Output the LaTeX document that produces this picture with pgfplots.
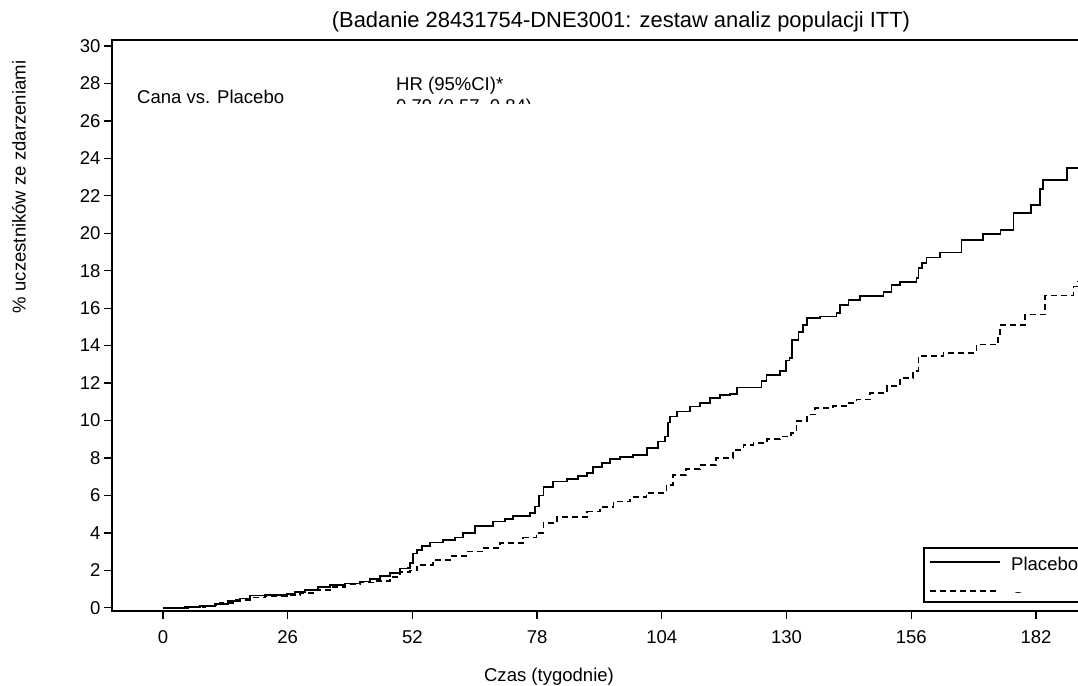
\documentclass[border=0pt]{standalone}
\usepackage{pgfplots}
\pgfplotsset{compat=1.18}
\usepackage{fontspec}
\setmainfont{Liberation Sans}
\newcommand\tfnt{\fontsize{18.6}{22}\selectfont}
\newcommand\sfnt{\fontsize{18.6}{22}\selectfont}
\newcommand\ttlfnt{\fontsize{22}{26}\selectfont}
\begin{document}
\begin{tikzpicture}[x=1bp,y=1bp]
\begin{axis}[
  at={(112bp,75bp)}, anchor=south west,
  scale only axis, width=970bp, height=571bp,
  xmin=-10.63, xmax=191.6, ymin=-0.17, ymax=30.32,
  xtick={0,26,52,78,104,130,156,182},
  ytick={0,2,...,30},
  tick pos=left, tick align=outside,
  major tick length=8bp,
  axis line style={line width=1.6bp},
  every tick/.style={line width=1.3bp, black},
  tick label style={font=\tfnt},
  /pgf/number format/assume math mode=true,
  xticklabel style={yshift=-8bp},
  yticklabel style={xshift=0bp},
  clip=true,
]
\addplot[const plot, line width=1.7bp, black] coordinates {
(0,0) (4.6,0.05) (7.7,0.1) (10.8,0.2) (13.5,0.35) (16.1,0.5) (18.1,0.65)
(21.3,0.7) (25.9,0.75) (27.5,0.85) (29.6,0.95) (32.3,1.1) (34.8,1.2)
(37.9,1.3) (41.1,1.4) (43.2,1.55) (45.2,1.7) (47.3,1.85) (49.4,2.1)
(51.1,2.13) (51.5,2.4) (52.1,2.9) (52.9,3.1) (54.0,3.3) (55.7,3.48)
(58.4,3.63) (60.9,3.75) (62.5,3.99) (65.0,4.38) (68.8,4.61) (71.3,4.75)
(72.9,4.91) (76.5,5.05) (77.6,5.41) (78.4,6.0) (79.3,6.44) (81.3,6.74)
(84.2,6.87) (86.5,7.05) (88.4,7.19) (89.6,7.51) (91.5,7.75) (93.2,7.94)
(95.3,8.05) (98.0,8.17) (100.9,8.53) (103.2,8.88) (104.7,9.14) (105.3,9.9)
(105.7,10.21) (107.2,10.48) (109.9,10.75) (112.0,10.93) (114.0,11.21)
(116.1,11.37) (118.2,11.41) (119.7,11.76) (124.8,12.12) (125.8,12.44)
(128.6,12.65) (129.9,13.2) (130.6,13.33) (131.1,14.3) (132.5,14.74)
(133.4,15.1) (134.2,15.47) (137.0,15.55) (140.4,15.73) (141.1,16.17)
(142.9,16.44) (145.3,16.65) (150.2,16.88) (151.9,17.24) (153.6,17.38)
(157.1,17.60) (157.5,18.13) (158.2,18.4) (159.2,18.70) (162.0,18.98)
(166.5,19.64) (170.9,19.96) (174.6,20.18) (177.3,21.07) (180.9,21.51)
(182.8,22.35) (183.5,22.85) (188.5,23.47) (191.6,23.47)
};
\addplot[const plot, line width=1.7bp, black, dash pattern=on 6bp off 4bp] coordinates {
(0,0) (5.6,0.05) (8.8,0.12) (11.9,0.25) (15.0,0.4) (18.1,0.55) (21.3,0.62)
(25.9,0.7) (28.6,0.8) (31.7,0.95) (34.8,1.1) (37.9,1.25) (41.1,1.35)
(44.2,1.45) (47.3,1.65) (49.4,1.93) (51.5,1.99) (52.9,2.29) (56.3,2.56)
(59.8,2.78) (63.3,3.00) (66.7,3.2) (70.3,3.45) (75.1,3.75) (77.9,3.99)
(79.3,4.52) (82.1,4.84) (88.4,5.14) (91.1,5.4) (93.9,5.68) (97.4,5.9)
(100.8,6.13) (105.0,6.57) (106.4,7.10) (109.0,7.4) (111.9,7.63) (115.3,8.0)
(118.9,8.43) (121.0,8.70) (123.1,8.79) (125.9,9.02) (128.6,9.15) (131.0,9.32)
(132.1,9.96) (134.2,10.32) (135.9,10.67) (139.7,10.76) (142.5,10.94)
(144.6,11.12) (147.4,11.48) (150.9,11.83) (153.6,12.28) (156.4,12.63)
(157.5,13.43) (162.7,13.61) (169.6,14.06) (174.1,14.50) (174.5,15.09)
(179.7,15.66) (183.9,16.67) (189.8,17.15) (190.5,17.42) (191.6,17.42)
};
\end{axis}
% title and labels
\node[anchor=base, font=\ttlfnt] at (621,658) {(Badanie 28431754-DNE3001: zestaw analiz populacji ITT)};
\node[anchor=base, font=\tfnt] at (549,4) {Czas (tygodnie)};
\node[rotate=90, anchor=center, font=\tfnt] at (19,499) {\% uczestników ze zdarzeniami};
% annotations
\node[anchor=base west, font=\tfnt, inner sep=0pt] at (137,582.7) {Cana vs. Placebo};
\node[anchor=base west, font=\sfnt, inner sep=0pt] at (396,595.3) {HR (95\%CI)*};
\begin{scope}
\clip (300,582) rectangle (700,640);
\node[anchor=base west, font=\sfnt, inner sep=0pt] at (396,573) {0.79 (0.57, 0.84)};
\end{scope}
% legend
\draw[line width=1.4bp, fill=white] (924,84) rectangle (1095,138);
\draw[line width=1.6bp] (930,124) -- (1000,124);
\draw[line width=1.6bp, dash pattern=on 6bp off 4bp] (930,95) -- (1000,95);
\node[anchor=base west, font=\tfnt, inner sep=0pt] at (1011,115) {Placebo};
\begin{scope}
\clip (1005,93) rectangle (1095,136);
\node[anchor=base west, font=\tfnt, inner sep=0pt] at (1011,80) {Cana};
\end{scope}
\pgfresetboundingbox
\path[use as bounding box] (0,0) rectangle (1078,686);
\end{tikzpicture}
\end{document}
